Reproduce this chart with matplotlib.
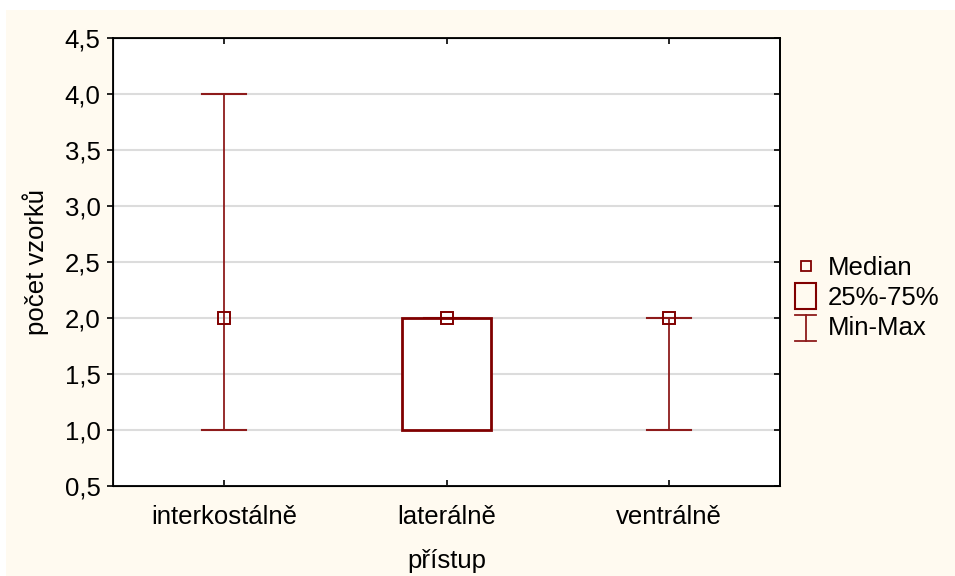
import matplotlib
matplotlib.use("Agg")
import matplotlib.pyplot as plt
from matplotlib.patches import Rectangle
from matplotlib.lines import Line2D
from matplotlib.legend_handler import HandlerBase

plt.rcParams['font.family'] = ['Liberation Sans', 'DejaVu Sans']

categories = ['interkostálně', 'laterálně', 'ventrálně']
medians = [2.0, 2.0, 2.0]
q25 = [2.0, 1.0, 2.0]
q75 = [2.0, 2.0, 2.0]
mins = [1.0, 1.0, 1.0]
maxs = [4.0, 2.0, 2.0]
yticks = [0.5, 1.0, 1.5, 2.0, 2.5, 3.0, 3.5, 4.0, 4.5]

box_col = '#800000'
whisk_col = '#8E1B1B'
cream = '#FFFAF0'
fs = 18.5

fig = plt.figure(figsize=(9.55, 5.76), dpi=100, facecolor='white')
fig.patches.append(Rectangle((6 / 955, 0), 1, 1 - 10 / 576, transform=fig.transFigure,
                             facecolor=cream, edgecolor='none', zorder=-10))
ax = fig.add_axes([113 / 955, 1 - 486 / 576, 667 / 955, 448 / 576])
ax.set_facecolor('white')

x = range(len(categories))
cap = 0.1
bw = 0.2
for i in x:
    # whisker and caps
    ax.plot([i, i], [mins[i], maxs[i]], color=whisk_col, lw=1.3, zorder=3)
    ax.plot([i - cap, i + cap], [mins[i], mins[i]], color=whisk_col, lw=1.5, zorder=3)
    ax.plot([i - cap, i + cap], [maxs[i], maxs[i]], color=whisk_col, lw=1.5, zorder=3)
    # interquartile box
    if q75[i] > q25[i]:
        ax.add_patch(Rectangle((i - bw, q25[i]), 2 * bw, q75[i] - q25[i],
                               facecolor='white', edgecolor=box_col, lw=2.0, zorder=4))
    # median marker
    ax.plot([i], [medians[i]], marker='s', ms=8, mfc='none', mec=box_col, mew=1.4,
            ls='none', zorder=5)

ax.set_xlim(-0.5, 2.5)
ax.set_ylim(0.5, 4.5)
ax.set_yticks(yticks)
ax.set_yticklabels([f'{v:.1f}'.replace('.', ',') for v in yticks])
ax.set_xticks(list(x))
ax.set_xticklabels(categories)
ax.yaxis.grid(True, color='#DCDCDC', lw=1.5)
ax.set_axisbelow(True)
for s in ax.spines.values():
    s.set_linewidth(1.3)
    s.set_color('black')
ax.tick_params(axis='x', direction='in', top=True, length=4, width=1.2, labelsize=fs, pad=14)
ax.tick_params(axis='y', direction='out', length=4, width=1.2, labelsize=fs, pad=5)
ax.set_xlabel('přístup', fontsize=fs, labelpad=14)
ax.set_ylabel('počet vzorků', fontsize=fs, labelpad=11)

# inward ticks on the right-hand spine
axr = ax.twinx()
axr.set_ylim(ax.get_ylim())
axr.set_yticks(yticks)
axr.tick_params(axis='y', direction='in', length=4, width=1.2, labelright=False)
axr.spines['right'].set_linewidth(1.3)


class BoxHandler(HandlerBase):
    def create_artists(self, legend, orig, xd, yd, w, h, fontsize, trans):
        r = Rectangle((xd + w * 0.05, yd - h * 0.25), w * 0.8, h * 1.45, facecolor='none',
                      edgecolor=box_col, lw=1.5, transform=trans)
        return [r]


class WhiskerHandler(HandlerBase):
    def create_artists(self, legend, orig, xd, yd, w, h, fontsize, trans):
        cx = xd + w * 0.45
        y0, y1 = yd - h * 0.3, yd + h * 1.15
        lines = [Line2D([cx, cx], [y0, y1], color=whisk_col, lw=1.3, transform=trans),
                 Line2D([xd + w * 0.05, xd + w * 0.85], [y0, y0], color=whisk_col, lw=1.3, transform=trans),
                 Line2D([xd + w * 0.05, xd + w * 0.85], [y1, y1], color=whisk_col, lw=1.3, transform=trans)]
        return lines


class MedianHandler(HandlerBase):
    def create_artists(self, legend, orig, xd, yd, w, h, fontsize, trans):
        m = Line2D([xd + w * 0.45], [yd + h * 0.45], marker='s', ms=7, mfc='none',
                   mec=box_col, mew=1.3, ls='none', transform=trans)
        return [m]


h_med = Line2D([], [])
h_box = Rectangle((0, 0), 1, 1)
h_wh = Line2D([], [])
fig.legend([h_med, h_box, h_wh], ['Median', '25%-75%', 'Min-Max'],
           handler_map={h_med: MedianHandler(), Rectangle: BoxHandler(), h_wh: WhiskerHandler()},
           loc='center left', bbox_to_anchor=(794 / 955, 1 - 298 / 576),
           frameon=False, fontsize=fs, handlelength=1.0, handletextpad=0.3,
           labelspacing=0.25, borderaxespad=0, borderpad=0)

fig.savefig('out.png', dpi=100, facecolor=fig.get_facecolor())
